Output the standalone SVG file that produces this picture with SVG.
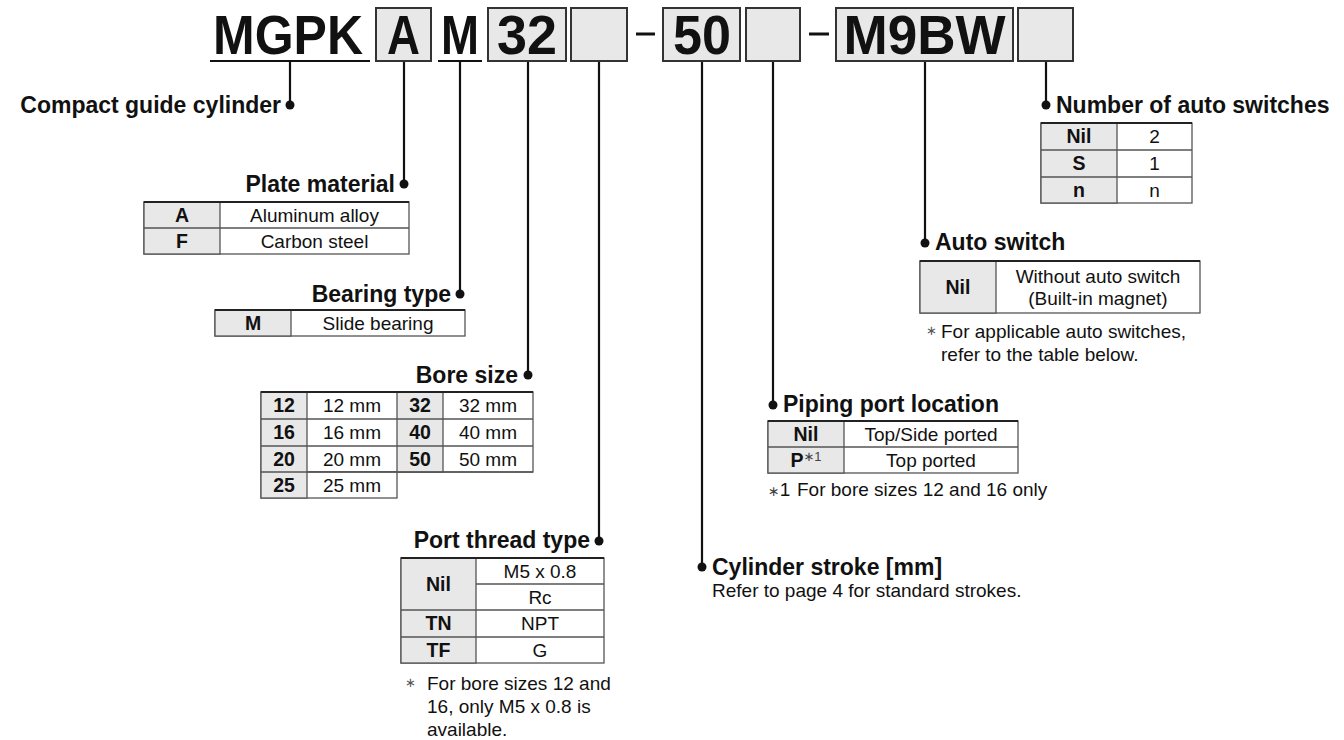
<svg xmlns="http://www.w3.org/2000/svg" width="1344" height="740" viewBox="0 0 1344 740">
<style>
text{font-family:"Liberation Sans","DejaVu Sans",Arial,sans-serif;fill:#111}
.hdr{font-size:56px;font-weight:bold;text-anchor:middle}
.box{fill:#e8e8e8;stroke:#333;stroke-width:2}
.ul{stroke:#111;stroke-width:2.2}
.dash{stroke:#111;stroke-width:3}
.ttl{font-size:23px;font-weight:bold}
.e{text-anchor:end}
.k{font-size:19.5px;font-weight:bold;text-anchor:middle}
.v{font-size:19px;text-anchor:middle}
.n{font-size:19px}
.ast{font-size:13px;fill:#555}
.tb{fill:#fff;stroke:#555;stroke-width:1.3}
.key{fill:#e8e8e8;stroke:#555;stroke-width:1.3}
.ln{stroke:#555;stroke-width:1.3}
.top{stroke:#222;stroke-width:2.2}
.con{fill:none;stroke:#111;stroke-width:2.2}
.dot{fill:#111}
</style>

<g id="header">
  <text class="hdr" x="288" y="54" textLength="150" lengthAdjust="spacingAndGlyphs">MGPK</text>
  <line class="ul" x1="210" y1="61" x2="370" y2="61"/>
  <rect class="box" x="376" y="8" width="55" height="53"/>
  <text class="hdr" x="403.5" y="54" textLength="33" lengthAdjust="spacingAndGlyphs">A</text>
  <text class="hdr" x="460" y="54" textLength="38" lengthAdjust="spacingAndGlyphs">M</text>
  <line class="ul" x1="438" y1="61" x2="482" y2="61"/>
  <rect class="box" x="488" y="8" width="78" height="53"/>
  <text class="hdr" x="527" y="54" textLength="60" lengthAdjust="spacingAndGlyphs">32</text>
  <rect class="box" x="571" y="8" width="56" height="53"/>
  <line class="dash" x1="636" y1="34" x2="655" y2="34"/>
  <rect class="box" x="663" y="8" width="77" height="53"/>
  <text class="hdr" x="702" y="54" textLength="58" lengthAdjust="spacingAndGlyphs">50</text>
  <rect class="box" x="746" y="8" width="54" height="53"/>
  <line class="dash" x1="809" y1="34" x2="829" y2="34"/>
  <rect class="box" x="836" y="8" width="177" height="53"/>
  <text class="hdr" x="924.5" y="54" textLength="162" lengthAdjust="spacingAndGlyphs">M9BW</text>
  <rect class="box" x="1018" y="8" width="55" height="53"/>
</g>

<g id="connectors">
  <path class="con" d="M290,62V105"/>
  <path class="con" d="M404,62V184"/>
  <path class="con" d="M460,62V294"/>
  <path class="con" d="M528,62V375"/>
  <path class="con" d="M599,62V541"/>
  <path class="con" d="M702,62V567"/>
  <path class="con" d="M773,62V405"/>
  <path class="con" d="M925,62V243"/>
  <path class="con" d="M1046,62V105"/>
  <circle class="dot" cx="290" cy="105" r="4.5"/>
  <circle class="dot" cx="404" cy="184" r="4.5"/>
  <circle class="dot" cx="460" cy="294" r="4.5"/>
  <circle class="dot" cx="528" cy="375" r="4.5"/>
  <circle class="dot" cx="599" cy="541" r="4.5"/>
  <circle class="dot" cx="702" cy="567" r="4.5"/>
  <circle class="dot" cx="773" cy="405" r="4.5"/>
  <circle class="dot" cx="925" cy="243" r="4.5"/>
  <circle class="dot" cx="1046" cy="105" r="4.5"/>
</g>

<g id="compact-guide-cylinder">
  <text class="ttl e" x="281" y="113">Compact guide cylinder</text>
</g>

<g id="plate-material">
  <text class="ttl e" x="395" y="192">Plate material</text>
  <rect class="tb" x="144" y="202" width="265" height="52"/>
  <rect class="key" x="144" y="202" width="76" height="52"/>
  <line class="ln" x1="144" y1="228" x2="409" y2="228"/>
  <line class="top" x1="144" y1="202" x2="409" y2="202"/>
  <text class="k" x="182" y="222">A</text>
  <text class="v" x="314.5" y="222">Aluminum alloy</text>
  <text class="k" x="182" y="248">F</text>
  <text class="v" x="314.5" y="248">Carbon steel</text>
</g>

<g id="bearing-type">
  <text class="ttl e" x="451" y="302">Bearing type</text>
  <rect class="tb" x="215" y="310" width="250" height="26"/>
  <rect class="key" x="215" y="310" width="76" height="26"/>
  <line class="top" x1="215" y1="310" x2="465" y2="310"/>
  <text class="k" x="253" y="330">M</text>
  <text class="v" x="378" y="330">Slide bearing</text>
</g>

<g id="bore-size">
  <text class="ttl e" x="518" y="383">Bore size</text>
  <rect class="tb" x="261" y="392" width="272" height="80"/>
  <rect class="tb" x="261" y="472" width="136" height="26"/>
  <rect class="key" x="261" y="392" width="46" height="106"/>
  <rect class="key" x="397" y="392" width="46" height="80"/>
  <line class="ln" x1="261" y1="419" x2="533" y2="419"/>
  <line class="ln" x1="261" y1="446" x2="533" y2="446"/>
  <line class="ln" x1="261" y1="472" x2="533" y2="472"/>
  <line class="top" x1="261" y1="392" x2="533" y2="392"/>
  <text class="k" x="284" y="412">12</text>
  <text class="v" x="352" y="412">12 mm</text>
  <text class="k" x="420" y="412">32</text>
  <text class="v" x="488" y="412">32 mm</text>
  <text class="k" x="284" y="439">16</text>
  <text class="v" x="352" y="439">16 mm</text>
  <text class="k" x="420" y="439">40</text>
  <text class="v" x="488" y="439">40 mm</text>
  <text class="k" x="284" y="466">20</text>
  <text class="v" x="352" y="466">20 mm</text>
  <text class="k" x="420" y="466">50</text>
  <text class="v" x="488" y="466">50 mm</text>
  <text class="k" x="284" y="492">25</text>
  <text class="v" x="352" y="492">25 mm</text>
</g>

<g id="port-thread-type">
  <text class="ttl e" x="590" y="548">Port thread type</text>
  <rect class="tb" x="401" y="558" width="203" height="105"/>
  <rect class="key" x="401" y="558" width="75" height="105"/>
  <line class="ln" x1="476" y1="584" x2="604" y2="584"/>
  <line class="ln" x1="401" y1="610" x2="604" y2="610"/>
  <line class="ln" x1="401" y1="637" x2="604" y2="637"/>
  <line class="top" x1="401" y1="558" x2="604" y2="558"/>
  <text class="k" x="438.5" y="591">Nil</text>
  <text class="v" x="540" y="578">M5 x 0.8</text>
  <text class="v" x="540" y="604">Rc</text>
  <text class="k" x="438.5" y="630">TN</text>
  <text class="v" x="540" y="630">NPT</text>
  <text class="k" x="438.5" y="657">TF</text>
  <text class="v" x="540" y="657">G</text>
  <text class="ast" x="405" y="687">∗</text>
  <text class="n" x="427" y="690">For bore sizes 12 and</text>
  <text class="n" x="427" y="713">16, only M5 x 0.8 is</text>
  <text class="n" x="427" y="736">available.</text>
</g>

<g id="cylinder-stroke">
  <text class="ttl" x="712" y="575">Cylinder stroke [mm]</text>
  <text class="n" x="712" y="597">Refer to page 4 for standard strokes.</text>
</g>

<g id="piping-port-location">
  <text class="ttl" x="783" y="412">Piping port location</text>
  <rect class="tb" x="768" y="421" width="250" height="52"/>
  <rect class="key" x="768" y="421" width="76" height="52"/>
  <line class="ln" x1="768" y1="447" x2="1018" y2="447"/>
  <line class="top" x1="768" y1="421" x2="1018" y2="421"/>
  <text class="k" x="806" y="441">Nil</text>
  <text class="v" x="931" y="441">Top/Side ported</text>
  <text class="k" x="806" y="467">P<tspan font-size="13" font-weight="normal" fill="#444" dy="-6">∗1</tspan></text>
  <text class="v" x="931" y="467">Top ported</text>
  <text class="n" x="768" y="496"><tspan font-size="14" fill="#444">∗</tspan>1  <tspan x="797">For bore sizes 12 and 16 only</tspan></text>
</g>

<g id="auto-switch">
  <text class="ttl" x="935" y="250">Auto switch</text>
  <rect class="tb" x="920" y="261" width="280" height="52"/>
  <rect class="key" x="920" y="261" width="76" height="52"/>
  <line class="top" x1="920" y1="261" x2="1200" y2="261"/>
  <text class="k" x="958" y="294">Nil</text>
  <text class="v" x="1098" y="283">Without auto switch</text>
  <text class="v" x="1098" y="305">(Built-in magnet)</text>
  <text class="ast" x="926" y="335">∗</text>
  <text class="n" x="941" y="338">For applicable auto switches,</text>
  <text class="n" x="941" y="361">refer to the table below.</text>
</g>

<g id="number-of-auto-switches">
  <text class="ttl" x="1056" y="113">Number of auto switches</text>
  <rect class="tb" x="1041" y="123" width="151" height="80"/>
  <rect class="key" x="1041" y="123" width="76" height="80"/>
  <line class="ln" x1="1041" y1="150" x2="1192" y2="150"/>
  <line class="ln" x1="1041" y1="177" x2="1192" y2="177"/>
  <line class="top" x1="1041" y1="123" x2="1192" y2="123"/>
  <text class="k" x="1079" y="143">Nil</text>
  <text class="v" x="1154.5" y="143">2</text>
  <text class="k" x="1079" y="170">S</text>
  <text class="v" x="1154.5" y="170">1</text>
  <text class="k" x="1079" y="197">n</text>
  <text class="v" x="1154.5" y="197">n</text>
</g>
</svg>
